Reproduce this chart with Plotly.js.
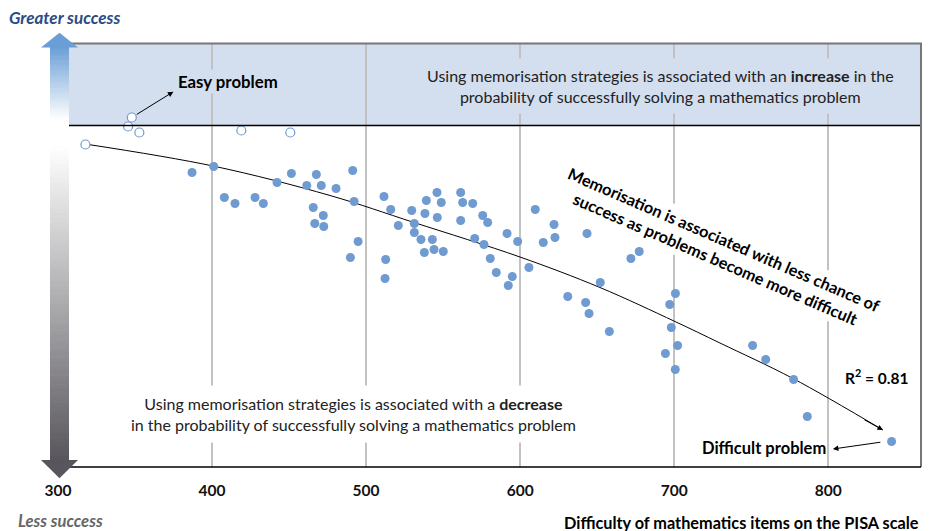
<!DOCTYPE html>
<html>
<head>
<meta charset="utf-8">
<script src="https://cdn.plot.ly/plotly-3.0.1.min.js"></script>
<style>html,body{margin:0;padding:0;background:#fff;}#chart{width:931px;height:531px;}</style>
</head>
<body>
<div id="chart"></div>
<script>
// ---- data ----
const tickVals = [300, 400, 500, 600, 700, 800];
const tickText = ['300', '400', '500', '600', '700', '800'];

// items above the fitted curve shown as hollow markers (easy problems)
const hollowX = [317.8, 345.5, 347.9, 352.8, 419.0, 450.8];
const hollowY = [-1.9, -0.1, 0.8, -0.7, -0.5, -0.7];

// PISA mathematics items: difficulty vs association of memorisation with success
const itemX = [387.0, 401.1, 408.0, 414.9, 427.9, 433.3, 442.2, 451.5, 461.5, 467.7,
  470.9, 480.5, 491.3, 492.2, 465.7, 472.2, 466.7, 472.5, 494.8, 489.8,
  511.6, 516.0, 520.9, 512.7, 512.3, 529.6, 531.3, 531.3, 535.6, 539.1,
  538.2, 546.0, 548.8, 546.2, 543.0, 537.8, 544.1, 550.1, 561.4, 562.7,
  569.2, 561.4, 575.7, 578.9, 570.5, 576.5, 580.6, 584.5, 591.5, 598.4,
  594.9, 592.3, 605.7, 609.8, 615.0, 622.0, 622.6, 643.4, 630.9, 642.5,
  671.9, 677.3, 652.0, 644.7, 657.9, 700.8, 697.1, 698.1, 702.2, 694.3,
  700.7, 750.9, 759.4, 777.5, 786.4, 841.1];
const itemY = [-4.7, -4.1, -7.2, -7.8, -7.2, -7.8, -5.7, -4.8, -6.0, -4.9,
  -6.0, -6.3, -4.5, -7.6, -8.2, -9.0, -9.8, -10.1, -11.6, -13.2,
  -7.1, -8.4, -10.0, -13.4, -15.3, -8.5, -9.8, -10.7, -11.4, -7.5,
  -8.8, -6.7, -7.7, -9.2, -11.4, -12.7, -12.4, -12.6, -6.7, -7.7,
  -7.8, -9.5, -9.0, -9.7, -11.3, -11.9, -13.3, -14.7, -10.8, -11.6,
  -15.1, -16.0, -14.2, -8.4, -11.7, -9.9, -11.2, -10.8, -17.1, -17.7,
  -13.3, -12.6, -15.7, -18.8, -20.6, -16.8, -17.9, -20.2, -22.0, -22.8,
  -24.4, -22.0, -23.4, -25.4, -29.1, -31.6];

// fitted curve as drawn (R² = 0.81)
const trendX = [317.6, 400.6, 476.6, 531.1, 599.9, 651.8, 700.5, 729.7, 777.1, 835.5];
const trendY = [-1.85, -4.05, -7.0, -9.7, -13.15, -16.2, -19.6, -21.75, -25.3, -30.45];
const rSquared = '0.81';

// ---- layout helpers (pixel -> paper) ----
const W = 931, H = 531;
const px = v => v / W;
const py = v => 1 - v / H;
const FONT = 'Lato, "Open Sans", sans-serif';
const BLUE = '#6f9bd1';
const BAND = '#d3deef';

const traces = [
  {
    x: trendX, y: trendY, type: 'scatter', mode: 'lines',
    line: {color: '#000', width: 1, shape: 'spline', smoothing: 1},
    hoverinfo: 'skip'
  },
  {
    x: hollowX, y: hollowY, type: 'scatter', mode: 'markers',
    marker: {symbol: 'circle', size: 9, color: '#ffffff', line: {color: BLUE, width: 1.2}},
    cliponaxis: false
  },
  {
    x: itemX, y: itemY, type: 'scatter', mode: 'markers',
    marker: {symbol: 'circle', size: 9, color: BLUE, line: {width: 0}},
    cliponaxis: false
  }
];

// ---- decorative shapes ----
const shapes = [];
shapes.push({type: 'rect', xref: 'paper', yref: 'paper', x0: px(69), x1: px(921), y0: py(125.3), y1: py(43),
  fillcolor: BAND, line: {width: 0}, layer: 'below'});
shapes.push({type: 'line', xref: 'paper', yref: 'y', x0: px(69), x1: px(921), y0: 0, y1: 0,
  line: {color: '#000', width: 1.3}});
shapes.push({type: 'line', xref: 'paper', yref: 'paper', x0: px(69), x1: px(922), y0: py(43.5), y1: py(43.5),
  line: {color: '#777', width: 2}});
shapes.push({type: 'line', xref: 'paper', yref: 'paper', x0: px(921), x1: px(921), y0: py(43), y1: py(467),
  line: {color: '#777', width: 2}});
shapes.push({type: 'line', xref: 'paper', yref: 'paper', x0: px(69), x1: px(921), y0: py(467), y1: py(467),
  line: {color: '#000', width: 1.5}});

function mix(c1, c2, t) {
  return 'rgb(' + c1.map((v, i) => Math.round(v + (c2[i] - v) * t)).join(',') + ')';
}
const topC = [106, 158, 214], white = [255, 255, 255], botC = [88, 86, 92];
const sx0 = px(50), sx1 = px(69);
function slices(yA, yB, cA, cB, n) {
  const h = (yB - yA) / n;
  for (let i = 0; i < n; i++) {
    const a = yA + i * h, b = a + h + 0.6;
    shapes.push({type: 'rect', xref: 'paper', yref: 'paper', x0: sx0, x1: sx1, y0: py(b), y1: py(a),
      fillcolor: mix(cA, cB, (i + 0.5) / n), line: {width: 0}, layer: 'above'});
  }
}
slices(46.5, 120, topC, white, 30);
slices(120, 146, white, white, 1);
slices(146, 460.5, white, botC, 70);
function pathPx(pts) {
  return 'M ' + pts.map(p => px(p[0]).toFixed(5) + ',' + py(p[1]).toFixed(5)).join(' L ') + ' Z';
}
shapes.push({type: 'path', xref: 'paper', yref: 'paper', path: pathPx([[41, 47.5], [59.5, 32.7], [78, 47.5]]),
  fillcolor: mix(topC, topC, 0), line: {width: 0}, layer: 'above'});
shapes.push({type: 'path', xref: 'paper', yref: 'paper', path: pathPx([[41, 460], [59.5, 478.3], [78, 460]]),
  fillcolor: mix(botC, botC, 0), line: {width: 0}, layer: 'above'});

// ---- annotations ----
const nEnd = trendX.length - 1;
function label(x, y, text, font, extra) {
  return Object.assign({xref: 'paper', yref: 'paper', x: px(x), y: py(y), xanchor: 'center', yanchor: 'middle',
    showarrow: false, text: text, font: font}, extra || {});
}
const bold = (size, color) => ({family: FONT, size: size, color: color || '#000', weight: 'bold'});
const annotations = [
  label(660, 86, 'Using memorisation strategies is associated with an <b>increase</b> in the<br>probability of successfully solving a mathematics problem',
    {family: FONT, size: 16, color: '#222'}, {bgcolor: BAND, borderpad: 7, align: 'center'}),
  label(353, 414, 'Using memorisation strategies is associated with a <b>decrease</b><br>in the probability of successfully solving a mathematics problem',
    {family: FONT, size: 16, color: '#222'}, {bgcolor: '#fff', borderpad: 8, align: 'center'}),
  label(720, 249, 'Memorisation is associated with less chance of<br>success as problems become more difficult',
    bold(16.3), {textangle: 23.4, bgcolor: '#fff', borderpad: 3, align: 'center'}),
  label(227.5, 81, 'Easy problem', bold(16.8), {bgcolor: BAND, borderpad: 1}),
  label(764, 448, 'Difficult problem', bold(16.5)),
  label(876, 376, 'R<sup>2</sup> = ' + rSquared, bold(15.5)),
  label(7, 17.5, '<i>Greater success</i>', bold(17, '#2b4b85'), {xanchor: 'left'}),
  label(16, 520.5, '<i>Less success</i>', bold(16.6, '#666'), {xanchor: 'left'}),
  label(921, 522, 'Difficulty of mathematics items on the PISA scale', bold(16.3), {xanchor: 'right'}),
  // arrow: easy problem
  {xref: 'x', yref: 'y', x: 374.9, y: 3.38, axref: 'x', ayref: 'y', ax: hollowX[2], ay: hollowY[2],
   text: '', showarrow: true, arrowhead: 2, arrowsize: 1.1, arrowwidth: 1, arrowcolor: '#000', standoff: 0, startstandoff: 4},
  // arrow: difficult problem label
  {xref: 'x', yref: 'y', x: 803, y: -32.35, ax: 49, ay: -7,
   text: '', showarrow: true, arrowhead: 2, arrowsize: 1.1, arrowwidth: 1, arrowcolor: '#000', standoff: 0},
  // arrowhead at end of curve
  {xref: 'x', yref: 'y', x: trendX[nEnd], y: trendY[nEnd], ax: -20, ay: -11,
   text: '', showarrow: true, arrowhead: 2, arrowsize: 1.1, arrowwidth: 1, arrowcolor: '#000', standoff: 0}
];

const layout = {
  width: W, height: H,
  margin: {l: 0, r: 0, t: 0, b: 0},
  paper_bgcolor: '#fff', plot_bgcolor: '#fff',
  showlegend: false,
  xaxis: {
    domain: [px(58), px(921)], range: [300, 860.2],
    tickvals: tickVals, ticktext: tickText, ticks: '', showline: false, zeroline: false,
    showgrid: true, gridcolor: '#c2c2c2', gridwidth: 1.6,
    tickfont: {family: FONT, size: 15.5, color: '#111', weight: 'bold'},
    ticklabelstandoff: 12, automargin: false, fixedrange: true
  },
  yaxis: {
    domain: [py(467), py(43)], range: [-34.15, 8.25],
    showgrid: false, zeroline: false, showticklabels: false, ticks: '', showline: false,
    automargin: false, fixedrange: true
  },
  shapes: shapes,
  annotations: annotations
};

Plotly.newPlot('chart', traces, layout, {displayModeBar: false, staticPlot: true});
</script>
</body>
</html>
